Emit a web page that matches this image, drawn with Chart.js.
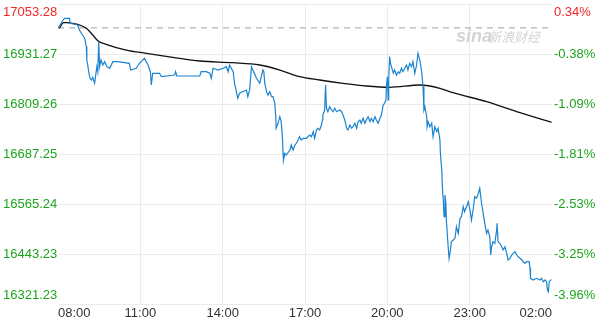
<!DOCTYPE html>
<html lang="zh-CN">
<head>
<meta charset="UTF-8">
<title>分时图</title>
<script src="https://cdn.jsdelivr.net/npm/chart.js"></script>
<style>
    html, body { margin: 0; padding: 0; background: #fff; }
    canvas { display: block; }
</style>
</head>
<body>
<canvas id="chart" width="612" height="321"></canvas>
<script>
    // minutes after 08:00
    const prevClose = 16995;
    const xTicks = [0, 180, 360, 540, 720, 900, 1080];
    const xTickLabels = ['08:00', '11:00', '14:00', '17:00', '20:00', '23:00', '02:00'];
    const yTicks = [16321.23, 16443.23, 16565.24, 16687.25, 16809.26, 16931.27, 17053.28];
    const yTickLabels = ['16321.23', '16443.23', '16565.24', '16687.25', '16809.26', '16931.27', '17053.28'];
    const pctLabels = ['-3.96%', '-3.25%', '-2.53%', '-1.81%', '-1.09%', '-0.38%', '0.34%'];

    const priceTimes = [0, 10, 14, 25, 27, 43, 47, 51, 58, 62, 63, 65, 67, 70, 73, 76, 80, 82, 85, 87, 89, 91, 94, 98, 102, 107, 113, 120, 131, 156, 159, 171, 178, 189, 193, 197, 202, 204, 207, 222, 226, 255, 257, 260, 310, 313, 324, 332, 335, 339, 350, 361, 368, 372, 375, 383, 386, 390, 393, 397, 412, 415, 419, 423, 426, 434, 441,
        448, 450, 452, 456, 459, 463, 467, 470, 474, 476, 477, 481, 485, 488, 491, 492, 493, 496, 499, 507, 510, 514, 518, 521, 525, 528, 532, 536, 543, 550, 554, 558, 561, 565, 568, 572, 576, 578, 579, 583, 585, 587, 590, 594, 598, 601, 605, 609, 616, 620, 623, 627, 631, 634, 638, 642, 645, 649, 653, 656, 660, 663, 667, 671, 674, 678, 682, 685, 689, 693, 696, 700, 704, 707, 711, 714, 717, 718, 720, 722, 723, 725, 727, 729, 733, 736, 740, 744, 747, 751, 754, 758, 762, 765, 769, 773, 776, 780, 784, 787, 791, 795, 798,
        800, 802, 806, 807, 809, 813, 817, 820, 824, 828, 831, 835, 836, 839, 841, 842, 844, 846, 848, 849, 853, 855, 858, 860, 864, 868, 871, 875, 879, 882, 886, 889, 893, 897, 900, 904, 908, 911, 915, 919, 922, 926, 929, 933, 937, 940, 944, 946, 948, 951, 955, 959, 960, 962, 966, 970, 973, 977, 981, 984, 988, 992, 995, 999, 1003, 1006, 1010, 1014, 1017, 1021, 1024, 1030, 1032, 1033, 1039, 1046, 1054, 1057, 1061, 1065, 1068, 1070, 1072, 1074, 1077, 1079];
    const prices = [16994.0, 17012.5, 17018.4, 17018.4, 17006.2, 17002.0, 16989.8, 16981.8, 16970.3, 16949.1, 16916.6, 16904.4, 16888.1, 16872.7, 16867.8, 16874.4, 16859.8, 16875.9, 16900.3, 16888.1, 16961.3, 16900.3, 16916.6, 16904.4, 16912.5, 16900.3, 16896.4, 16912.5, 16912.5, 16908.6, 16892.2, 16896.4, 16908.6, 16920.8, 16912.5, 16904.4, 16888.1, 16855.6, 16884.2, 16884.2, 16875.9, 16880.0, 16888.1, 16877.6, 16877.6, 16888.1, 16888.1, 16884.2, 16872.0, 16896.4, 16892.2, 16896.4, 16900.3, 16888.1, 16904.4, 16888.1, 16859.8, 16839.3, 16823.2, 16835.4, 16843.4, 16827.1, 16843.4, 16900.3, 16892.2, 16872.0, 16859.8,
        16892.2, 16888.1, 16859.8, 16839.3, 16831.2, 16839.3, 16827.1, 16827.1, 16811.0, 16778.3, 16750.0, 16762.2, 16778.3, 16766.1, 16721.4, 16689.0, 16672.6, 16689.0, 16684.8, 16697.0, 16709.2, 16697.0, 16709.2, 16713.4, 16721.4, 16729.5, 16721.4, 16725.6, 16725.6, 16733.6, 16729.5, 16741.7, 16725.6, 16745.8, 16750.0, 16745.8, 16758.0, 16770.2, 16782.4, 16794.6, 16855.6, 16798.8, 16790.5, 16802.7, 16794.6, 16790.5, 16798.8, 16790.5, 16794.6, 16790.5, 16782.4, 16770.2, 16750.0, 16745.8, 16758.0, 16750.0, 16753.9, 16762.2, 16750.0, 16766.1, 16770.2, 16762.2, 16774.4, 16762.2, 16770.2, 16778.3, 16766.1, 16774.4, 16766.1, 16778.3, 16770.2, 16762.2, 16774.4, 16782.4, 16806.8, 16811.0, 16819.0, 16851.3, 16875.9, 16819.0, 16867.8, 16924.7, 16908.6, 16900.3, 16884.2, 16892.2, 16880.0, 16888.1, 16884.2, 16896.4, 16888.1, 16896.4, 16904.4, 16892.2, 16908.6, 16900.3, 16912.5, 16884.2, 16904.4, 16933.0, 16916.6, 16888.1, 16851.3,
        16794.6, 16802.7, 16778.3, 16753.9, 16766.1, 16753.9, 16762.2, 16729.5, 16753.9, 16741.7, 16750.0, 16721.4, 16689.0, 16648.2, 16591.4, 16583.1, 16534.3, 16587.2, 16567.0, 16526.2, 16461.0, 16432.7, 16453.0, 16473.2, 16477.4, 16481.5, 16509.8, 16493.7, 16530.3, 16534.3, 16558.7, 16546.5, 16558.7, 16570.9, 16554.8, 16526.2, 16554.8, 16583.1, 16579.2, 16591.4, 16603.6, 16567.0, 16546.5, 16518.1, 16493.7, 16501.8, 16485.4, 16440.8, 16461.0, 16473.2, 16469.3, 16501.8, 16518.1, 16473.2, 16469.3, 16461.0, 16453.0, 16461.0, 16444.9, 16428.6, 16432.7, 16440.8, 16444.9, 16448.8, 16440.8, 16436.6, 16432.7, 16428.6, 16424.4, 16420.5, 16424.4, 16424.4, 16408.3, 16383.9, 16379.8, 16383.9, 16379.8, 16383.9, 16375.6, 16379.8, 16375.6, 16355.4, 16351.2, 16375.6, 16379.8, 16379.8];

    const avgTimes = [3, 12, 21, 43, 62, 76, 87, 105, 149, 193, 251, 310, 382, 441, 485, 528, 572, 623, 674, 725, 791, 835, 864, 937, 1010, 1079];
    const avgPrices = [16994.0, 17008.0, 17007.6, 17003.7, 16994.0, 16977.6, 16963.7, 16954.9, 16941.0, 16933.0, 16923.2, 16914.2, 16910.0, 16904.4, 16892.2, 16875.9, 16867.8, 16859.8, 16853.2, 16850.0, 16855.6, 16847.6, 16836.8, 16814.9, 16788.0, 16764.6];

    const RED = '#f02828';
    const GREEN = '#1ea51e';
    const GRID = '#ebebeb';
    const tickFont = { family: 'Arial, "Liberation Sans", sans-serif', size: 13, lineHeight: 1.25 };

    // first/last labels pushed inside the plot, as on the original
    function edgeLabel(text, index, count) {
        if (index === 0) return [text, ''];
        if (index === count - 1) return ['', text];
        return text;
    }

    const watermark = {
        id: 'watermark',
        beforeDatasetsDraw(chart) {
            const c = chart.ctx;
            c.save();
            c.fillStyle = '#d4d4d4';
            c.font = 'italic bold 18px Arial, "Liberation Sans", sans-serif';
            c.fillText('sina', 456, 42);
            c.font = 'italic 13px "Noto Sans CJK SC", sans-serif';
            c.fillText('新浪财经', 488, 42);
            c.restore();
        }
    };

    const ctx = document.getElementById('chart').getContext('2d');
    new Chart(ctx, {
        type: 'line',
        data: {
            datasets: [
                {
                    label: '价格',
                    data: priceTimes.map((t, i) => ({ x: t, y: prices[i] })),
                    borderColor: '#1b84d0',
                    borderWidth: 1.2,
                    pointRadius: 0,
                    tension: 0
                },
                {
                    label: '均价',
                    data: avgTimes.map((t, i) => ({ x: t, y: avgPrices[i] })),
                    borderColor: '#111',
                    borderWidth: 1.3,
                    pointRadius: 0,
                    cubicInterpolationMode: 'monotone'
                },
                {
                    label: '昨收',
                    data: [{ x: xTicks[0], y: prevClose }, { x: xTicks[xTicks.length - 1], y: prevClose }],
                    borderColor: '#a0a0a0',
                    borderWidth: 1,
                    borderDash: [6, 5],
                    pointRadius: 0
                }
            ]
        },
        options: {
            responsive: false,
            animation: false,
            layout: { padding: { left: 3, top: 4, right: 0, bottom: 0 } },
            plugins: { legend: { display: false }, tooltip: { enabled: false } },
            scales: {
                x: {
                    type: 'linear',
                    min: xTicks[0],
                    max: xTicks[xTicks.length - 1],
                    afterBuildTicks: s => { s.ticks = xTicks.map(v => ({ value: v })); },
                    afterFit: s => { s.height = 17; s.paddingLeft = 0; s.paddingRight = 0; },
                    border: { display: false },
                    grid: {
                        drawTicks: false,
                        color: c => (c.index === 0 || c.index === xTicks.length - 1) ? 'rgba(0,0,0,0)' : GRID
                    },
                    ticks: {
                        align: 'inner',
                        autoSkip: false,
                        maxRotation: 0,
                        padding: 2,
                        color: '#333',
                        font: { family: tickFont.family, size: 13, lineHeight: 1.2 },
                        callback: (v, i) => xTickLabels[i]
                    }
                },
                y: {
                    position: 'left',
                    min: yTicks[0],
                    max: yTicks[yTicks.length - 1],
                    afterBuildTicks: s => { s.ticks = yTicks.map(v => ({ value: v })); },
                    afterFit: s => { s.width = 55; s.paddingTop = 0; s.paddingBottom = 0; },
                    border: { display: false },
                    grid: { drawTicks: false, color: GRID },
                    ticks: {
                        crossAlign: 'far',
                        padding: 0,
                        font: tickFont,
                        color: c => c.index === yTicks.length - 1 ? RED : GREEN,
                        callback: (v, i) => edgeLabel(yTickLabels[i], i, yTicks.length)
                    }
                },
                y2: {
                    position: 'right',
                    min: yTicks[0],
                    max: yTicks[yTicks.length - 1],
                    afterBuildTicks: s => { s.ticks = yTicks.map(v => ({ value: v })); },
                    afterFit: s => { s.width = 60; s.paddingTop = 0; s.paddingBottom = 0; },
                    border: { display: false },
                    grid: { display: false, drawTicks: false },
                    ticks: {
                        padding: 2,
                        font: tickFont,
                        color: c => c.index === yTicks.length - 1 ? RED : GREEN,
                        callback: (v, i) => edgeLabel(pctLabels[i], i, yTicks.length)
                    }
                }
            }
        },
        plugins: [watermark]
    });
</script>
</body>
</html>
